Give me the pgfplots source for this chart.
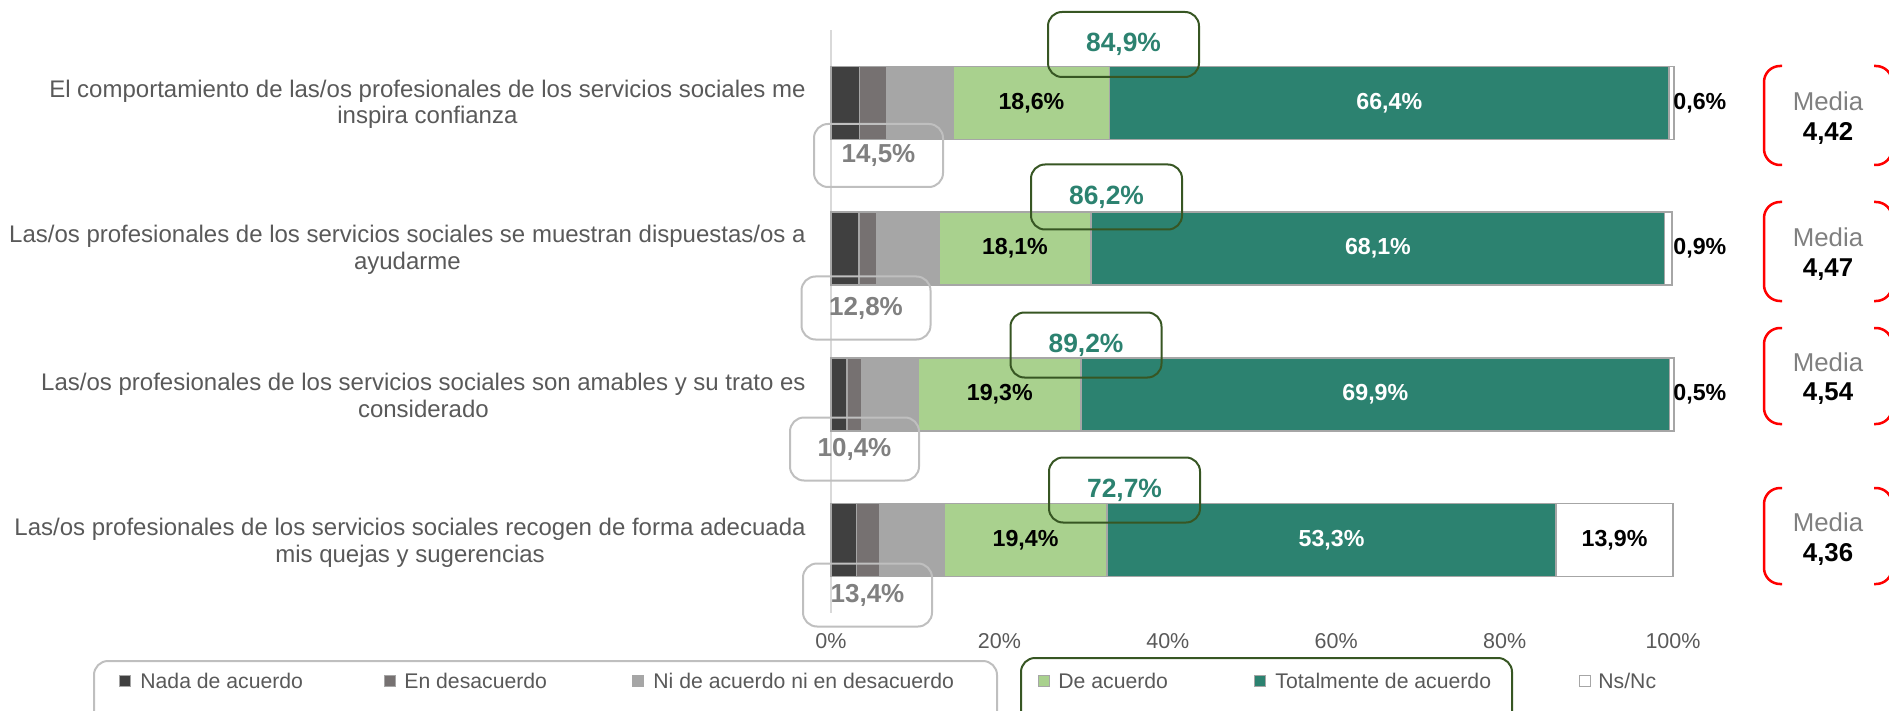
\documentclass[border=0pt]{standalone}
\usepackage{pgfplots}
\pgfplotsset{compat=1.18}
\usepackage{fontspec}
\setmainfont{Liberation Sans}
\definecolor{cDark}{HTML}{404040}
\definecolor{cMed}{HTML}{767171}
\definecolor{cLight}{HTML}{A6A6A6}
\definecolor{cGreen}{HTML}{A9D18E}
\definecolor{cTeal}{HTML}{2C8270}
\definecolor{cBorder}{HTML}{A6A6A6}
\definecolor{cText}{HTML}{595959}
\definecolor{cGrayTxt}{HTML}{808080}
\definecolor{cBox}{HTML}{BFBFBF}
\definecolor{cDGreen}{HTML}{375623}
\definecolor{cAxis}{HTML}{D9D9D9}
\tikzset{
  blab/.style={font=\bfseries\fontsize{11.6}{13}\selectfont, inner sep=0pt},
  catlab/.style={anchor=east, align=center, inner sep=0pt, text=cText, font=\fontsize{12}{13.25}\selectfont},
  gbox/.style={draw=cDGreen, line width=1pt, rounded corners=7pt, minimum width=75.5pt, minimum height=32.5pt, inner sep=0pt, text=cTeal, font=\bfseries\fontsize{13.2}{14}\selectfont},
  dbox/.style={draw=cBox, line width=1pt, rounded corners=7pt, minimum width=64.5pt, minimum height=31.5pt, inner sep=0pt, text=cGrayTxt, font=\bfseries\fontsize{13}{14}\selectfont},
}
\begin{document}
\begin{tikzpicture}
\clip (0pt,0pt) rectangle (944.5pt,-355.5pt);
\useasboundingbox (0pt,0pt) rectangle (944.5pt,-355.5pt);
\begin{axis}[
  at={(415.5pt,-306.5pt)}, anchor=south west,
  scale only axis, width=421pt, height=291.5pt,
  xbar stacked, bar width=36.5pt,
  xmin=0, xmax=100, ymin=0.5, ymax=4.5, y dir=reverse,
  axis lines*=left,
  x axis line style={draw=none},
  y axis line style={draw=cAxis, line width=0.75pt},
  ytick=\empty,
  xtick={0,20,40,60,80,100},
  xticklabels={0\%,20\%,40\%,60\%,80\%,100\%},
  major tick length=0pt,
  xticklabel style={font=\fontsize{10.75}{12}\selectfont, text=cText, anchor=center, yshift=-14pt},
  clip=false,
]
\addplot[fill=cDark, draw=cBorder, line width=0.75pt] coordinates {(3.4,1) (3.3,2) (1.9,3) (3.0,4)};
\addplot[fill=cMed, draw=cBorder, line width=0.75pt] coordinates {(3.2,1) (2.1,2) (1.7,3) (2.8,4)};
\addplot[fill=cLight, draw=cBorder, line width=0.75pt] coordinates {(7.9,1) (7.4,2) (6.8,3) (7.6,4)};
\addplot[fill=cGreen, draw=cBorder, line width=0.75pt] coordinates {(18.6,1) (18.1,2) (19.3,3) (19.4,4)};
\addplot[fill=cTeal, draw=cBorder, line width=0.75pt] coordinates {(66.4,1) (68.1,2) (69.9,3) (53.3,4)};
\addplot[fill=white, draw=cBorder, line width=0.75pt] coordinates {(0.6,1) (0.9,2) (0.5,3) (13.9,4)};
\coordinate (g1) at (axis cs:23.8,1);
\coordinate (g2) at (axis cs:21.85,2);
\coordinate (g3) at (axis cs:20.05,3);
\coordinate (g4) at (axis cs:23.1,4);
\coordinate (t1) at (axis cs:66.3,1);
\coordinate (t2) at (axis cs:64.95,2);
\coordinate (t3) at (axis cs:64.65,3);
\coordinate (t4) at (axis cs:59.45,4);
\coordinate (n1) at (axis cs:100,1);
\coordinate (n2) at (axis cs:100,2);
\coordinate (n3) at (axis cs:100,3);
\coordinate (n4) at (axis cs:93.05,4);
\end{axis}
\node[blab] at (g1) {18,6\%};
\node[blab] at (g2) {18,1\%};
\node[blab] at (g3) {19,3\%};
\node[blab] at (g4) {19,4\%};
\node[blab, text=white] at (t1) {66,4\%};
\node[blab, text=white] at (t2) {68,1\%};
\node[blab, text=white] at (t3) {69,9\%};
\node[blab, text=white] at (t4) {53,3\%};
\node[blab, anchor=west] at (n1) {0,6\%};
\node[blab, anchor=west] at (n2) {0,9\%};
\node[blab, anchor=west] at (n3) {0,5\%};
\node[blab] at (n4) {13,9\%};
\begin{scope}[x=0.5pt,y=-0.5pt]
\node[catlab] at (806,104.5) {El comportamiento de las/os profesionales de los servicios sociales me\\inspira confianza};
\node[catlab] at (806,250) {Las/os profesionales de los servicios sociales se muestran dispuestas/os a\\ayudarme};
\node[catlab] at (806,395.5) {Las/os profesionales de los servicios sociales son amables y su trato es\\considerado};
\node[catlab] at (806,543) {Las/os profesionales de los servicios sociales recogen de forma adecuada\\mis quejas y sugerencias};
\node[gbox] at (1123.5,44.5) {84,9\%};
\node[gbox] at (1106.5,197) {86,2\%};
\node[gbox] at (1086,345) {89,2\%};
\node[gbox] at (1124.5,490) {72,7\%};
\node[dbox] at (878.5,155.5) {14,5\%};
\node[dbox] at (866,308) {12,8\%};
\node[dbox] at (854.5,449) {10,4\%};
\node[dbox] at (867.5,595) {13,4\%};
\foreach \t/\b in {66/165, 202/301, 328/424, 488/584}{
  \draw[red, line width=1.25pt, rounded corners=8pt] (1782,\t) -- (1764,\t) -- (1764,\b) -- (1782,\b);
  \draw[red, line width=1.25pt, rounded corners=8pt] (1874,\t) -- (1892,\t) -- (1892,\b) -- (1874,\b);
}
\foreach \c/\v in {115.5/{4,42}, 251.5/{4,47}, 376/{4,54}, 536/{4,36}}{
  \node[inner sep=0pt, text=cGrayTxt, font=\fontsize{12.9}{14}\selectfont] at (1828,\c-14) {Media};
  \node[inner sep=0pt, font=\bfseries\fontsize{12.9}{14}\selectfont] at (1828,\c+18) {\v};
}
\draw[cBox, line width=1pt, rounded corners=7pt] (94,740) -- (94,661) -- (997,661) -- (997,740);
\draw[cDGreen, line width=1pt, rounded corners=7pt] (1021,740) -- (1021,658) -- (1512,658) -- (1512,740);
\foreach \m/\s/\c/\l in {125/140/cDark/{Nada de acuerdo}, 390/404/cMed/{En desacuerdo}, 638/653/cLight/{Ni de acuerdo ni en desacuerdo}, 1044/1058/cGreen/{De acuerdo}, 1260/1275/cTeal/{Totalmente de acuerdo}, 1585/1598/white/{Ns/Nc}}{
  \draw[fill=\c, draw=cBorder, line width=0.5pt] (\m-5.5,675.5) rectangle (\m+5.5,686.5);
  \node[anchor=west, inner sep=0pt, text=cText, font=\fontsize{10.6}{12}\selectfont] at (\s,681) {\l};
}
\end{scope}
\end{tikzpicture}
\end{document}
